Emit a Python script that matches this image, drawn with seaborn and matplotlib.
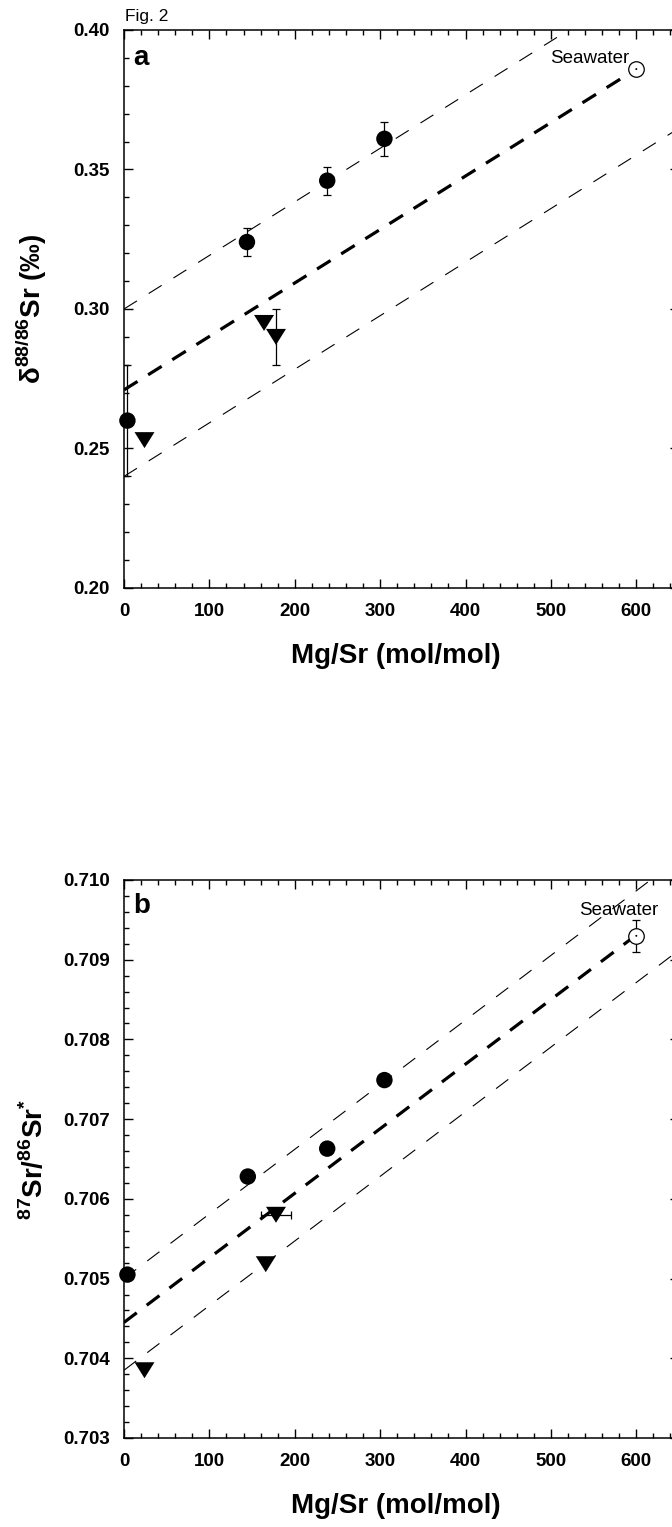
import matplotlib
matplotlib.use('Agg')
import matplotlib.pyplot as plt
from matplotlib.ticker import MultipleLocator, FormatStrFormatter
from matplotlib.path import Path
import numpy as np
import pandas as pd
import seaborn as sns

# --- データ ---
# (a) δ88/86Sr vs Mg/Sr
a_circle_mgsr = [4, 144, 238, 305]
a_circle_val = [0.260, 0.324, 0.346, 0.361]
a_circle_err = [0.020, 0.005, 0.005, 0.006]
a_tri_mgsr = [24, 164, 178]
a_tri_val = [0.253, 0.295, 0.290]
a_tri_err = [0.0, 0.0, 0.010]
a_sw_mgsr = [600]
a_sw_val = [0.386]

# 回帰線の端点 (Mg/Sr, δ88/86Sr)
a_mid_x, a_mid_y = [0, 600], [0.271, 0.386]
a_hi_x, a_hi_y = [0, 650], [0.300, 0.4248]
a_lo_x, a_lo_y = [0, 650], [0.240, 0.3648]

# (b) 87Sr/86Sr* vs Mg/Sr
b_circle_mgsr = [4, 145, 238, 305]
b_circle_val = [0.70505, 0.70628, 0.70663, 0.70749]
b_tri_mgsr = [24, 166, 178]
b_tri_val = [0.70385, 0.70518, 0.70580]
b_tri_xerr = [0, 0, 18]
b_sw_mgsr = [600]
b_sw_val = [0.70930]
b_sw_err = [0.0002]

b_mid_x, b_mid_y = [0, 600], [0.70445, 0.70931]
b_hi_x, b_hi_y = [0, 650], [0.70500, 0.71027]
b_lo_x, b_lo_y = [0, 650], [0.70385, 0.70912]

# --- スタイル ---
sns.set_style('ticks')
plt.rcParams['font.family'] = ['Liberation Sans', 'DejaVu Sans']
plt.rcParams['font.weight'] = 'bold'
plt.rcParams['mathtext.fontset'] = 'custom'
plt.rcParams['mathtext.rm'] = 'Liberation Sans:bold'
plt.rcParams['mathtext.bf'] = 'Liberation Sans:bold'
plt.rcParams['lines.scale_dashes'] = False
plt.rcParams['axes.linewidth'] = 1.1
for key in ['text.color', 'axes.labelcolor', 'xtick.color', 'ytick.color', 'axes.edgecolor']:
    plt.rcParams[key] = 'black'

# 横長の下向き三角形
tri_marker = Path([(-1, 0.8), (1, 0.8), (0, -0.8), (-1, 0.8)],
                  [Path.MOVETO, Path.LINETO, Path.LINETO, Path.CLOSEPOLY])

fig = plt.figure(figsize=(6.72, 15.27), dpi=100)
W, H = 672, 1527
ax_a = fig.add_axes([124 / W, 1 - 588 / H, 555 / W, 558 / H])
ax_b = fig.add_axes([124 / W, 1 - 1438 / H, 555 / W, 558 / H])


def draw_lines(ax, mid, hi, lo):
    for (lx, ly) in (hi, lo):
        sns.lineplot(x=lx, y=ly, ax=ax, color='black', linewidth=0.8,
                     linestyle=(0, (11, 10)), zorder=1)
    sns.lineplot(x=mid[0], y=mid[1], ax=ax, color='black', linewidth=2.3,
                 linestyle=(0, (11.5, 9)), zorder=1)


def draw_points(ax, cx, cy, tx, ty, sx, sy):
    df_c = pd.DataFrame({'mgsr': cx, 'val': cy})
    df_t = pd.DataFrame({'mgsr': tx, 'val': ty})
    df_s = pd.DataFrame({'mgsr': sx, 'val': sy})
    sns.scatterplot(data=df_c, x='mgsr', y='val', ax=ax, marker='o', s=140,
                    color='black', edgecolor='none', linewidth=0, zorder=4,
                    legend=False, clip_on=False)
    sns.scatterplot(data=df_t, x='mgsr', y='val', ax=ax, marker=tri_marker, s=207,
                    color='black', edgecolor='none', linewidth=0, zorder=4,
                    legend=False, clip_on=False)
    sns.scatterplot(data=df_s, x='mgsr', y='val', ax=ax, marker='o', s=125,
                    facecolor='white', edgecolor='black', linewidth=0.9, zorder=4,
                    legend=False, clip_on=False)
    sns.scatterplot(data=df_s, x='mgsr', y='val', ax=ax, marker='o', s=2,
                    color='black', edgecolor='none', linewidth=0, zorder=5,
                    legend=False, clip_on=False)


def errbars(ax, x, y, xerr=None, yerr=None):
    x = np.asarray(x, float)
    y = np.asarray(y, float)
    if yerr is not None:
        e = np.asarray(yerr, float)
        m = e > 0
        ax.errorbar(x[m], y[m], yerr=e[m], fmt='none', ecolor='black',
                    elinewidth=0.9, capsize=3.2, capthick=0.9, zorder=3)
    if xerr is not None:
        e = np.asarray(xerr, float)
        m = e > 0
        ax.errorbar(x[m], y[m], xerr=e[m], fmt='none', ecolor='black',
                    elinewidth=0.9, capsize=3.2, capthick=0.9, zorder=3)


# --- (a) ---
draw_lines(ax_a, (a_mid_x, a_mid_y), (a_hi_x, a_hi_y), (a_lo_x, a_lo_y))
errbars(ax_a, a_circle_mgsr, a_circle_val, yerr=a_circle_err)
errbars(ax_a, a_tri_mgsr, a_tri_val, yerr=a_tri_err)
draw_points(ax_a, a_circle_mgsr, a_circle_val, a_tri_mgsr, a_tri_val, a_sw_mgsr, a_sw_val)
ax_a.text(592, 0.3882, 'Seawater', ha='right', va='baseline', fontsize=13.5, fontweight='normal')
ax_a.set_ylim(0.20, 0.40)
ax_a.yaxis.set_major_locator(MultipleLocator(0.05))
ax_a.yaxis.set_minor_locator(MultipleLocator(0.01))
ax_a.yaxis.set_major_formatter(FormatStrFormatter('%.2f'))
ax_a.set_ylabel(r'δ$^{\mathrm{88/86}}$Sr (‰)', fontsize=20, fontweight='bold')
ax_a.text(0.016, 0.937, 'a', transform=ax_a.transAxes, fontsize=20,
          fontweight='bold', va='baseline')

# --- (b) ---
draw_lines(ax_b, (b_mid_x, b_mid_y), (b_hi_x, b_hi_y), (b_lo_x, b_lo_y))
errbars(ax_b, b_sw_mgsr, b_sw_val, yerr=b_sw_err)
errbars(ax_b, b_tri_mgsr, b_tri_val, xerr=b_tri_xerr)
draw_points(ax_b, b_circle_mgsr, b_circle_val, b_tri_mgsr, b_tri_val, b_sw_mgsr, b_sw_val)
ax_b.text(625.5, 0.70956, 'Seawater', ha='right', va='baseline', fontsize=13.5, fontweight='normal')
ax_b.set_ylim(0.703, 0.710)
ax_b.yaxis.set_major_locator(MultipleLocator(0.001))
ax_b.yaxis.set_minor_locator(MultipleLocator(0.0002))
ax_b.yaxis.set_major_formatter(FormatStrFormatter('%.3f'))
ax_b.set_ylabel(r'$^{\mathrm{87}}$Sr/$^{\mathrm{86}}$Sr$^{\mathrm{*}}$', fontsize=20, fontweight='bold')
ax_b.text(0.016, 0.941, 'b', transform=ax_b.transAxes, fontsize=20,
          fontweight='bold', va='baseline')

# --- 共通の軸設定 ---
for ax in (ax_a, ax_b):
    ax.set_xlim(0, 650)
    ax.xaxis.set_major_locator(MultipleLocator(100))
    ax.xaxis.set_minor_locator(MultipleLocator(20))
    ax.set_xlabel('Mg/Sr (mol/mol)', fontsize=20, fontweight='bold')
    ax.tick_params(which='both', direction='in', top=True, right=True,
                   width=1.0, colors='black', labelsize=13.5)
    ax.tick_params(which='major', length=6.5)
    ax.tick_params(which='minor', length=3.6)
    ax.tick_params(axis='x', which='major', pad=11)
    ax.tick_params(axis='y', which='major', pad=10)
    for sp in ax.spines.values():
        sp.set_visible(True)
        sp.set_color('black')
    ax.xaxis.set_label_coords(0.49, -0.099)
    ax.yaxis.set_label_coords(-0.135, 0.5)

fig.text(125 / W, 1 - 21 / H, 'Fig. 2', fontsize=12.5, fontweight='normal', va='baseline')

fig.savefig('out.png', dpi=100)
plt.close(fig)
